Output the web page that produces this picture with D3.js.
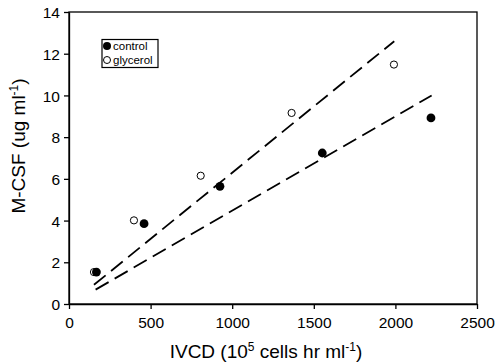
<!DOCTYPE html>
<html>
<head>
<meta charset="utf-8">
<script src="https://cdn.jsdelivr.net/npm/d3@7"></script>
<style>
  body { margin: 0; background: #fff; }
  svg { display: block; font-family: "Liberation Sans", Arial, Helvetica, sans-serif; }
</style>
</head>
<body>
<svg id="chart" width="497" height="362"></svg>
<script>
// measured values (IVCD in 1e5 cells hr/ml, M-CSF in ug/ml)
var controlX = [168, 460, 925, 1552, 2218];
var controlY = [1.53, 3.85, 5.64, 7.24, 8.92];
var glycerolX = [153, 398, 807, 1364, 1991];
var glycerolY = [1.53, 4.01, 6.15, 9.16, 11.48];

// fitted lines
var controlFitX = [163, 2222];
var controlFitY = [0.69, 10.0];
var glycerolFitX = [153, 1993];
var glycerolFitY = [0.92, 12.6];

var xTicks = [0, 500, 1000, 1500, 2000, 2500];
var yTicks = [0, 2, 4, 6, 8, 10, 12, 14];

var margin = {top: 12, left: 69};
var width = 408;
var height = 292;

var svg = d3.select('#chart');
var g = svg.append('g').attr('transform', 'translate(' + margin.left + ',' + margin.top + ')');

var x = d3.scaleLinear().domain([0, 2500]).range([0, width]);
var y = d3.scaleLinear().domain([0, 14]).range([height, 0]);

var zip = function (xs, ys) {
  return xs.map(function (v, i) { return [v, ys[i]]; });
};

// frame
g.append('rect')
    .attr('width', width)
    .attr('height', height)
    .attr('fill', 'none')
    .attr('stroke', '#000')
    .attr('stroke-width', 1.3);

var xAxis = g.append('g')
    .attr('transform', 'translate(0,' + height + ')')
    .call(d3.axisBottom(x).tickValues(xTicks).tickSize(5).tickSizeOuter(0).tickFormat(d3.format('d')));
var yAxis = g.append('g')
    .call(d3.axisLeft(y).tickValues(yTicks).tickSize(5).tickSizeOuter(0).tickFormat(d3.format('d')));

[xAxis, yAxis].forEach(function (a) {
  a.select('.domain').attr('stroke-width', 1.3);
  a.selectAll('.tick line').attr('stroke-width', 1.3);
  a.selectAll('.tick text')
      .attr('font-size', 15.5)
      .attr('font-family', '"Liberation Sans", Arial, sans-serif')
      .attr('fill', '#000');
});
xAxis.selectAll('.tick text').attr('dy', null).attr('y', 24);
yAxis.selectAll('.tick text').attr('x', -9).attr('dy', '0.36em');

// fit lines
var line = d3.line()
    .x(function (d) { return x(d[0]); })
    .y(function (d) { return y(d[1]); });

[zip(glycerolFitX, glycerolFitY), zip(controlFitX, controlFitY)].forEach(function (pts) {
  g.append('path')
      .attr('d', line(pts))
      .attr('fill', 'none')
      .attr('stroke', '#000')
      .attr('stroke-width', 1.8)
      .attr('stroke-dasharray', '15,7');
});

// points
g.selectAll('circle.glycerol').data(zip(glycerolX, glycerolY)).enter().append('circle')
    .attr('class', 'glycerol')
    .attr('cx', function (d) { return x(d[0]); })
    .attr('cy', function (d) { return y(d[1]); })
    .attr('r', 3.6)
    .attr('fill', '#fff')
    .attr('stroke', '#000')
    .attr('stroke-width', 1);

g.selectAll('circle.control').data(zip(controlX, controlY)).enter().append('circle')
    .attr('class', 'control')
    .attr('cx', function (d) { return x(d[0]); })
    .attr('cy', function (d) { return y(d[1]); })
    .attr('r', 4.4)
    .attr('fill', '#000');

// legend
var legend = svg.append('g').attr('transform', 'translate(102,39.5)');
legend.append('rect')
    .attr('width', 56)
    .attr('height', 28)
    .attr('fill', '#fff')
    .attr('stroke', '#000')
    .attr('stroke-width', 1.2);
legend.append('circle').attr('cx', 5).attr('cy', 6.5).attr('r', 4).attr('fill', '#000');
legend.append('circle').attr('cx', 5).attr('cy', 20.5).attr('r', 3.5)
    .attr('fill', '#fff').attr('stroke', '#000').attr('stroke-width', 1);
legend.append('text').attr('x', 11).attr('y', 10.5).attr('font-size', 11.5).text('control');
legend.append('text').attr('x', 11).attr('y', 24.5).attr('font-size', 11.5).text('glycerol');

// axis titles
var xt = svg.append('text')
    .attr('x', 266)
    .attr('y', 357.5)
    .attr('text-anchor', 'middle')
    .attr('font-size', 19);
xt.append('tspan').text('IVCD (10');
xt.append('tspan').attr('font-size', 12).attr('dy', -7).text('5');
xt.append('tspan').attr('dy', 7).text(' cells hr ml');
xt.append('tspan').attr('font-size', 12).attr('dy', -7).text('-1');
xt.append('tspan').attr('dy', 7).text(')');

var yt = svg.append('text')
    .attr('transform', 'translate(25,146) rotate(-90)')
    .attr('text-anchor', 'middle')
    .attr('font-size', 19);
yt.append('tspan').text('M-CSF (ug ml');
yt.append('tspan').attr('font-size', 12).attr('dy', -7).text('-1');
yt.append('tspan').attr('dy', 7).text(')');
</script>
</body>
</html>
